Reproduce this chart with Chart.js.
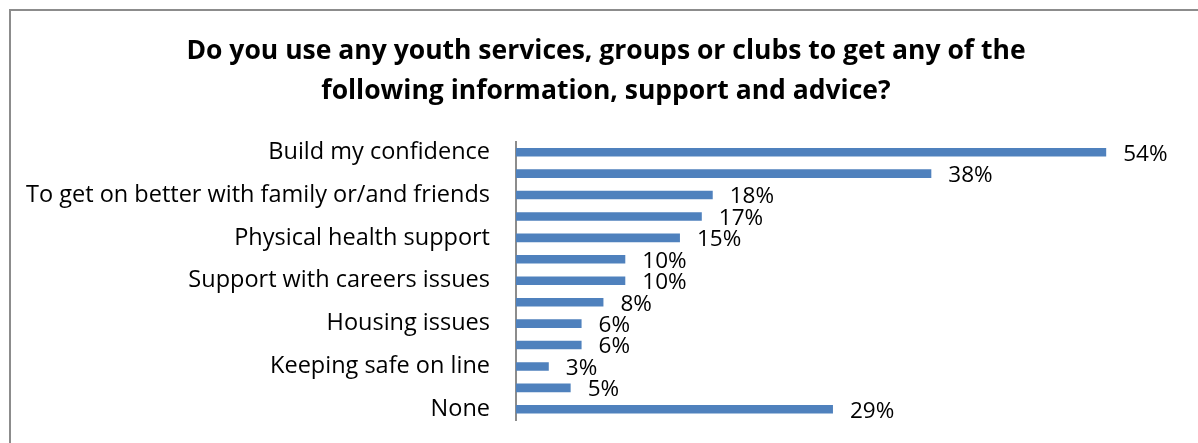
<!DOCTYPE html>
<html>
<head>
<meta charset="utf-8">
<script src="https://cdn.jsdelivr.net/npm/chart.js@4/dist/chart.umd.min.js"></script>
<style>
  html, body { margin: 0; padding: 0; background: #fff; overflow: hidden; }
  #frame { position: absolute; left: 9px; top: 9px; width: 1300px; height: 500px; border: 2px solid #8c8c8c; }
  #chart { position: absolute; left: 0; top: 0; }
</style>
</head>
<body>
<div id="frame"></div>
<canvas id="chart" width="1198" height="443"></canvas>
<script>
// Answers, top to bottom; only every other category name is printed on the axis
const categories = [
  "Build my confidence",
  "",
  "To get on better with family or/and friends",
  "",
  "Physical health support",
  "",
  "Support with careers issues",
  "",
  "Housing issues",
  "",
  "Keeping safe on line",
  "",
  "None"
];
const percents = [54, 38, 18, 17, 15, 10, 10, 8, 6, 6, 3, 5, 29];
const titleLines = [
  "Do you use any youth services, groups or clubs to get any of the",
  "following information, support and advice?"
];

const FONT = "'Open Sans', 'Liberation Sans', sans-serif";

// writes "NN%" just past the end of each bar
const barValueLabels = {
  id: "barValueLabels",
  afterDatasetsDraw(chart) {
    const { ctx } = chart;
    const meta = chart.getDatasetMeta(0);
    ctx.save();
    ctx.font = "22.5px " + FONT;
    ctx.fillStyle = "#000";
    ctx.textAlign = "left";
    ctx.textBaseline = "middle";
    meta.data.forEach((bar, i) => {
      ctx.fillText(percents[i] + "%", bar.x + 17, bar.y + 2);
    });
    ctx.restore();
  }
};

new Chart(document.getElementById("chart"), {
  type: "bar",
  data: {
    labels: categories,
    datasets: [{
      data: percents,
      backgroundColor: "#4f81bd",
      borderWidth: 0,
      barPercentage: 0.4,
      categoryPercentage: 1
    }]
  },
  options: {
    indexAxis: "y",
    responsive: false,
    animation: false,
    layout: { padding: { left: 14, right: 0, top: 0, bottom: 23 } },
    plugins: {
      legend: { display: false },
      tooltip: { enabled: false },
      title: {
        display: true,
        text: titleLines,
        color: "#000",
        font: { family: FONT, size: 26.5, weight: "bold", lineHeight: 1.5 },
        padding: { top: 32, bottom: 30 }
      }
    },
    scales: {
      x: {
        display: false,
        min: 0,
        max: 62.4
      },
      y: {
        afterFit(scale) {
          scale.width = 502;
          // labels sit inside their rows, no extra room needed above/below
          scale.paddingTop = 0;
          scale.paddingBottom = 0;
        },
        grid: { display: false, drawTicks: false },
        border: { display: true, color: "#8c8c8c", width: 2 },
        ticks: {
          autoSkip: false,
          padding: 26,
          color: "#000",
          font: { family: FONT, size: 23.5 },
          callback(value, index) { return index % 2 === 0 ? categories[index] : ""; }
        }
      }
    }
  },
  plugins: [barValueLabels]
});
</script>
</body>
</html>
